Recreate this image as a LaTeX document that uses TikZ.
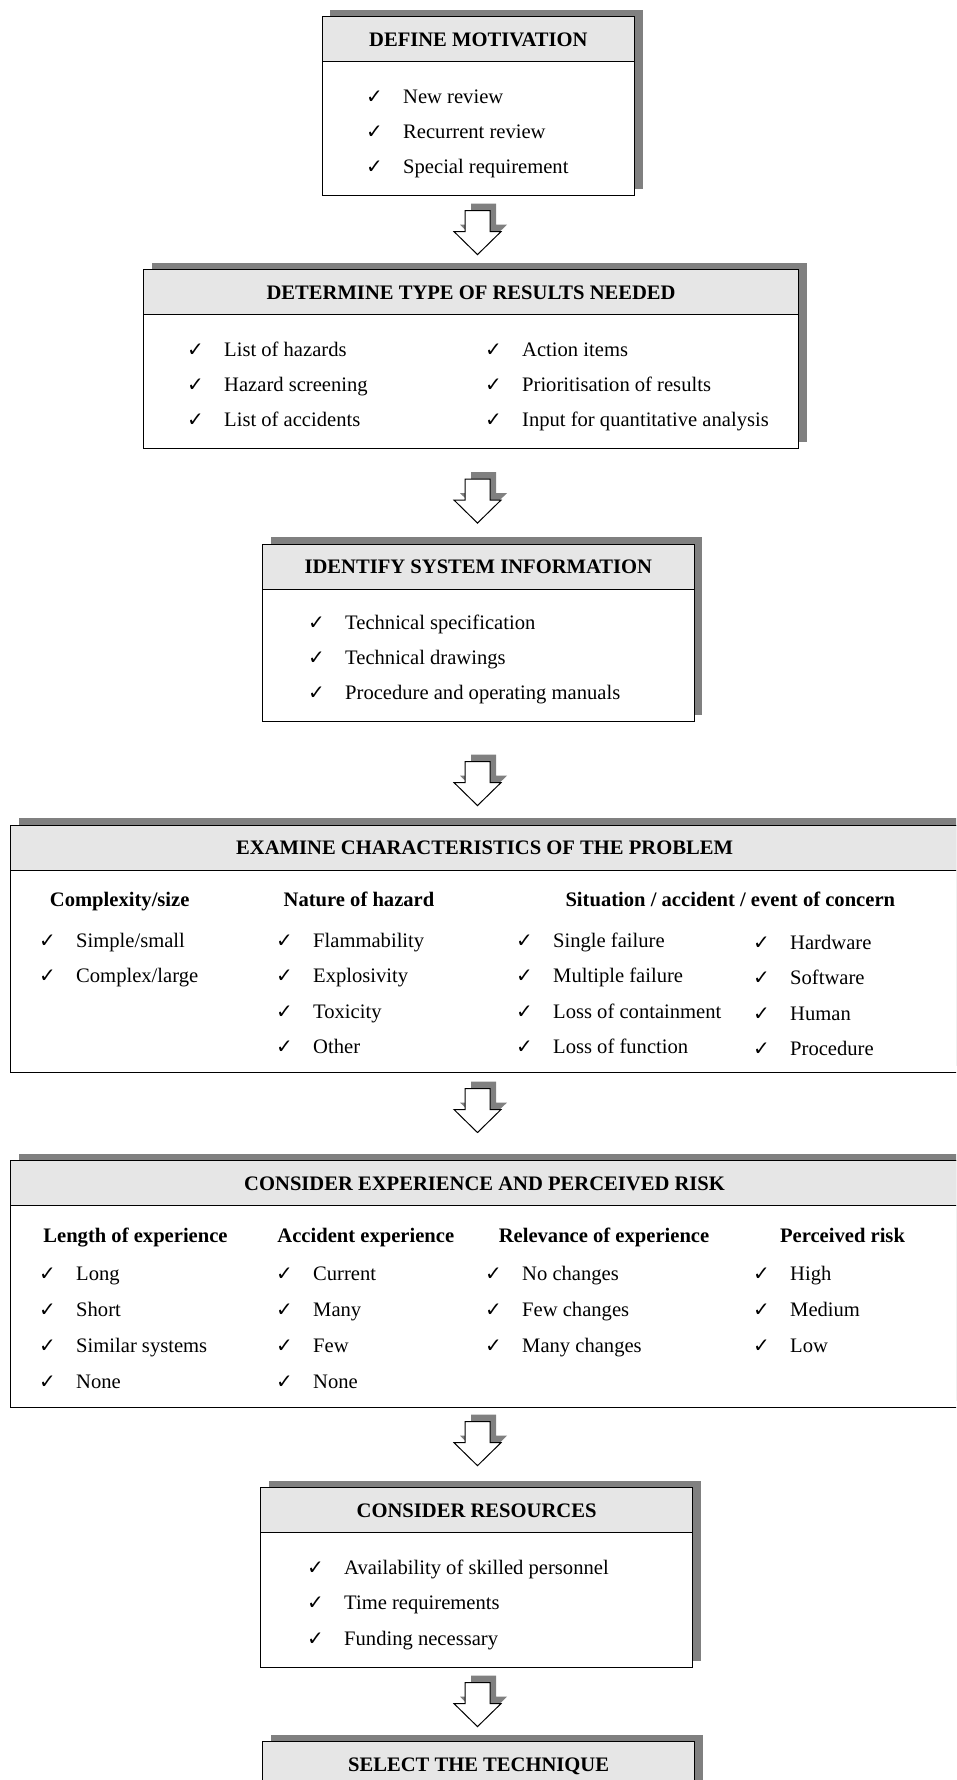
\documentclass[tikz,border=0pt]{standalone}
\usepackage{fontspec}
\setmainfont{Liberation Serif}
\newfontfamily\ckfont{DejaVu Sans}
\usetikzlibrary{shadows}
\definecolor{headgray}{HTML}{E6E6E6}
\definecolor{shadegray}{HTML}{808080}
\newcommand{\chk}{\makebox[37pt][l]{\ckfont\fontsize{20}{20}\selectfont ✓}}

\begin{document}
\begin{tikzpicture}[x=1pt,y=-1pt,font=\fontsize{20.6}{24}\selectfont,
    box/.style={draw,line width=1.2pt,fill=white,anchor=north west,inner sep=0pt,
      general shadow={fill=shadegray,shadow xshift=8pt,shadow yshift=7pt}},
    head/.style={draw,line width=1.2pt,fill=headgray,anchor=north west,inner sep=0pt,
      minimum height=45pt,text height=14pt,text depth=0pt,
      font=\fontsize{20.6}{24}\selectfont\bfseries},
    item/.style={anchor=base west,inner sep=0pt},
    colhead/.style={anchor=base,inner sep=0pt,font=\fontsize{20.6}{24}\selectfont\bfseries},
    downarrow/.pic={
      \fill[shadegray] (-6.5,-29) -- ++(25,0) -- ++(0,21) -- ++(11,0) -- ++(-23.5,23)
        -- ++(-23.5,-23) -- ++(11,0) -- cycle;
      \draw[line width=1pt,fill=white] (-12.5,-22) -- ++(25,0) -- ++(0,21) -- ++(11,0)
        -- ++(-23.5,23) -- ++(-23.5,-23) -- ++(11,0) -- cycle;
    }]
    \useasboundingbox (0,0) rectangle (956,1780);
    \clip (0,0) rectangle (956,1780);
    \coordinate (ax) at (477.5,0);

    \node[box,minimum width=312.5pt,minimum height=179pt] (motiv) at (321.5,16) {};
    \node[head,minimum width=312.5pt] (motivh) at (motiv.north west) {DEFINE MOTIVATION};
    \foreach \t [count=\i] in {New review,Recurrent review,Special requirement}
        \node[item] (motiv-\i) at (366,68.5+35*\i) {\chk\t};

    \node[box,minimum width=655pt,minimum height=179pt] (results) at (143,269) {};
    \node[head,minimum width=655pt] (resultsh) at (results.north west) {DETERMINE TYPE OF RESULTS NEEDED};
    \foreach \t [count=\i] in {List of hazards,Hazard screening,List of accidents}
        \node[item] (resl-\i) at (187,321+35*\i) {\chk\t};
    \foreach \t [count=\i] in {Action items,Prioritisation of results,Input for quantitative analysis}
        \node[item] (resr-\i) at (485,321+35*\i) {\chk\t};

    \node[box,minimum width=431.5pt,minimum height=177.5pt] (system) at (262,543.5) {};
    \node[head,minimum width=431.5pt] (systemh) at (system.north west) {IDENTIFY SYSTEM INFORMATION};
    \foreach \t [count=\i] in {Technical specification,Technical drawings,Procedure and operating manuals}
        \node[item] (sys-\i) at (308,594+35.3*\i) {\chk\t};

    \node[box,minimum width=948pt,minimum height=247.5pt] (examine) at (10,824.5) {};
    \node[head,minimum width=948pt] (examineh) at (examine.north west) {EXAMINE CHARACTERISTICS OF THE PROBLEM};
    \node[colhead] (exa-size) at (119.7,906) {Complexity/size};
    \node[colhead] (exa-haz) at (359,906) {Nature of hazard};
    \node[colhead] (exa-sit) at (730.3,906) {Situation / accident / event of concern};
    \foreach \t [count=\i] in {Simple/small,Complex/large}
        \node[item] (size-\i) at (39,912.5+35.2*\i) {\chk\t};
    \foreach \t [count=\i] in {Flammability,Explosivity,Toxicity,Other}
        \node[item] (haz-\i) at (276,912.5+35.2*\i) {\chk\t};
    \foreach \t [count=\i] in {Single failure,Multiple failure,Loss of containment,Loss of function}
        \node[item] (sit-\i) at (516,912.5+35.2*\i) {\chk\t};
    \foreach \t [count=\i] in {Hardware,Software,Human,Procedure}
        \node[item] (src-\i) at (753,913.5+35.6*\i) {\chk\t};

    \node[box,minimum width=948pt,minimum height=247pt] (experience) at (10,1160) {};
    \node[head,minimum width=948pt] (experienceh) at (experience.north west) {CONSIDER EXPERIENCE AND PERCEIVED RISK};
    \node[colhead] (exp-len) at (135.5,1242) {Length of experience};
    \node[colhead] (exp-acc) at (365.8,1242) {Accident experience};
    \node[colhead] (exp-rel) at (604,1242) {Relevance of experience};
    \node[colhead] (exp-risk) at (842.5,1242) {Perceived risk};
    \foreach \t [count=\i] in {Long,Short,Similar systems,None}
        \node[item] (len-\i) at (39,1245+35.8*\i) {\chk\t};
    \foreach \t [count=\i] in {Current,Many,Few,None}
        \node[item] (acc-\i) at (276,1245+35.8*\i) {\chk\t};
    \foreach \t [count=\i] in {No changes,Few changes,Many changes}
        \node[item] (rel-\i) at (485,1245+35.8*\i) {\chk\t};
    \foreach \t [count=\i] in {High,Medium,Low}
        \node[item] (risk-\i) at (753,1245+35.8*\i) {\chk\t};

    \node[box,minimum width=432pt,minimum height=180pt] (resources) at (260,1487) {};
    \node[head,minimum width=432pt] (resourcesh) at (resources.north west) {CONSIDER RESOURCES};
    \foreach \t [count=\i] in {Availability of skilled personnel,Time requirements,Funding necessary}
        \node[item] (res-\i) at (307,1538.5+35.5*\i) {\chk\t};

    \node[box,minimum width=432pt,minimum height=200pt] (select) at (262,1741) {};
    \node[head,minimum width=432pt] (selecth) at (select.north west) {SELECT THE TECHNIQUE};

    \foreach \a/\b/\p [count=\i] in {motiv/results/.5,results/system/.55,system/examine/.6,
        examine/experience/.43,experience/resources/.45,resources/select/.5}{
        \path (\a.south -| ax) -- coordinate[pos=\p] (arr\i) (\b.north -| ax);
        \pic at (arr\i) {downarrow};
    }
\end{tikzpicture}
\end{document}
